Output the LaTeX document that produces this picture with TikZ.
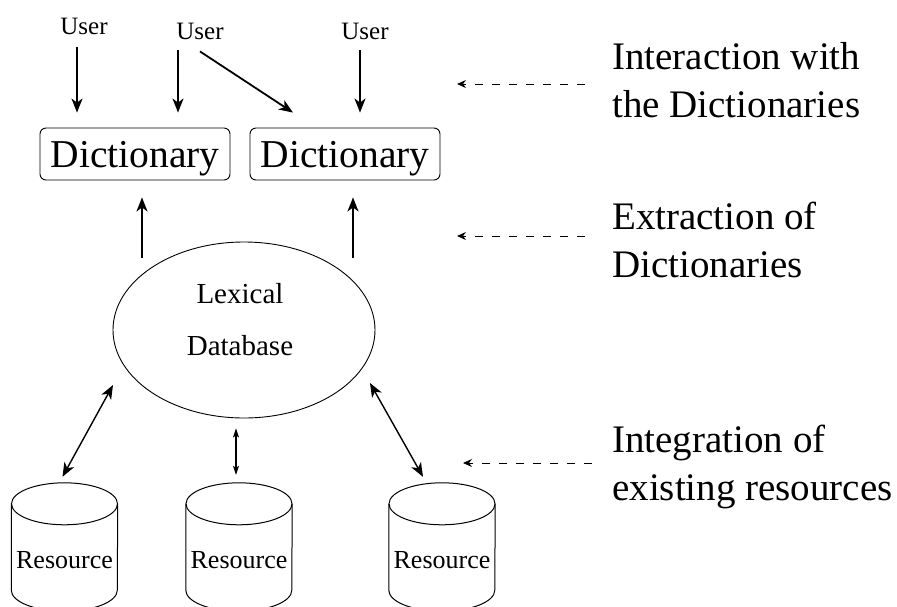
\documentclass[tikz,border=0pt]{standalone}
\usepackage{fontspec}
\setmainfont{Liberation Serif}
\usetikzlibrary{arrows.meta,shapes.geometric}
\begin{document}
\begin{tikzpicture}[x=1pt,y=-1pt,
  usertxt/.style={font=\fontsize{25pt}{30pt}\selectfont, inner sep=0pt, anchor=base},
  dictbox/.style={draw, line width=0.9pt, rounded corners=6pt, minimum width=190pt, minimum height=52pt, inner sep=0pt, text depth=0pt, font=\fontsize{39.5pt}{47pt}\selectfont},
  lexnode/.style={draw, ellipse, line width=0.9pt, minimum width=262pt, minimum height=176pt, inner sep=0pt},
  lextxt/.style={font=\fontsize{29pt}{52pt}\selectfont, align=center, inner sep=0pt, anchor=base},
  resnode/.style={minimum width=106pt, minimum height=128pt, inner sep=0pt, text height=42pt, text depth=0pt, font=\fontsize{26pt}{30pt}\selectfont},
  sidelabel/.style={font=\fontsize{39pt}{47.5pt}\selectfont, align=left, inner sep=0pt, anchor=base west},
  arr/.style={-{Stealth[length=14pt,width=11pt,inset=4pt]}, line width=1.4pt},
  darr/.style={{Stealth[length=14pt,width=11pt,inset=4pt]}-{Stealth[length=14pt,width=11pt,inset=4pt]}, line width=1.4pt},
  sarr/.style={{Stealth[length=9pt,width=6pt,inset=2pt]}-{Stealth[length=9pt,width=6pt,inset=2pt]}, line width=1.1pt},
  dasharr/.style={-{Stealth[length=9pt,width=8pt,inset=3pt]}, line width=1pt, dash pattern=on 8pt off 9pt},
  cylline/.style={line width=1pt}
]
\useasboundingbox (0,0) rectangle (897,606);

% users
\node[usertxt] (u1) at (84,34) {User};
\node[usertxt] (u2) at (200,39) {User};
\node[usertxt] (u3) at (365,39) {User};

% dictionaries
\node[dictbox] (d1) at (135,154) {Dictionary};
\node[dictbox] (d2) at (345,154) {Dictionary};

% lexical database
\node[lexnode] (lex) at (244,330) {};
\node[lextxt] (lext) at (240,355) {Lexical\\Database};

% resources
\node[resnode] (c1) at (64.5,547) {Resource};
\node[resnode] (c2) at (239,547) {Resource};
\node[resnode] (c3) at (442,547) {Resource};
\foreach \c in {c1,c2,c3} {
  \draw[cylline] ([shift={(0,21)}]\c.north) ellipse[x radius=53, y radius=21];
  \draw[cylline] ([shift={(0,21)}]\c.north west) -- ([shift={(0,-21)}]\c.south west)
    arc[start angle=180, end angle=0, x radius=53, y radius=21]
    -- ([shift={(0,21)}]\c.north east);
}

% side labels
\node[sidelabel] (lab1) at (612,117) {Interaction with\\the Dictionaries};
\node[sidelabel] (lab2) at (612,277) {Extraction of\\Dictionaries};
\node[sidelabel] (lab3) at (612,500) {Integration of\\existing resources};

% user arrows
\draw[arr] ([shift={(-7,13)}]u1.south) -- ([shift={(-58,-15)}]d1.north);
\draw[arr] ([shift={(-22,11)}]u2.south) -- ([shift={(43,-15)}]d1.north);
\draw[arr, line width=1.8pt] ([shift={(0,12)}]u2.south) -- ([shift={(-52,-15)}]d2.north);
\draw[arr] ([shift={(-5,11)}]u3.south) -- ([shift={(15,-15)}]d2.north);

% extraction arrows
\draw[arr] ([shift={(-102,-72)}]lex.center) -- ([shift={(7,17)}]d1.south);
\draw[arr] ([shift={(109,-72)}]lex.center) -- ([shift={(8,17)}]d2.south);

% integration arrows
\draw[darr] ([shift={(-131,55)}]lex.center) -- ([shift={(-2,-6)}]c1.north);
\draw[sarr] ([shift={(-8,10)}]lex.south) -- ([shift={(-3,-8)}]c2.north);
\draw[darr] ([shift={(126,53)}]lex.center) -- ([shift={(-19,-6)}]c3.north);

% dashed pointers
\draw[dasharr] ([shift={(-27,-33)}]lab1.base west) -- ++(-128,0);
\draw[dasharr] ([shift={(-27,-41)}]lab2.base west) -- ++(-128,0);
\draw[dasharr] ([shift={(-20,-37)}]lab3.base west) -- ++(-129,0);
\end{tikzpicture}
\end{document}
